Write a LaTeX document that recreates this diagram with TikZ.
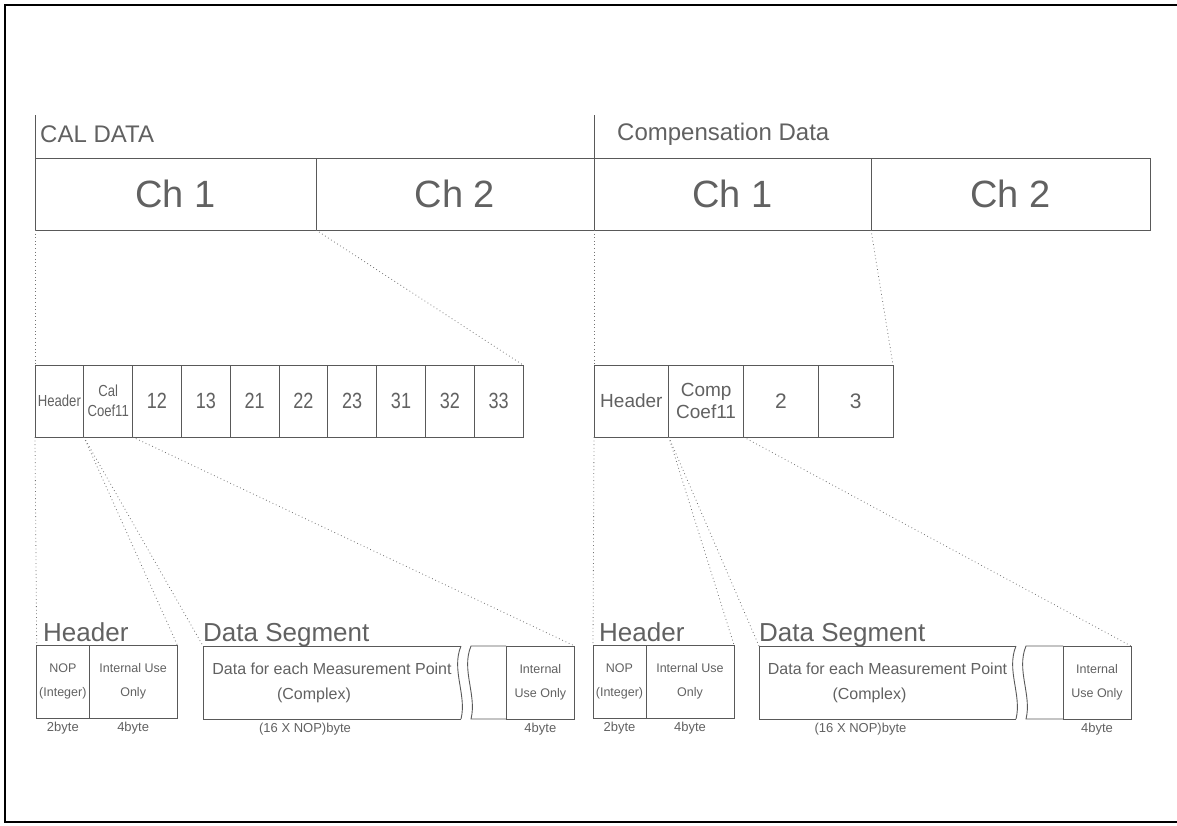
\documentclass[tikz,border=0pt]{standalone}
\usepackage{fontspec}
\setmainfont{Liberation Sans}
\newfontfamily\narrowfont[FakeStretch=0.82]{Liberation Sans}
\usetikzlibrary{positioning}
\definecolor{linegray}{gray}{0.35}
\definecolor{textgray}{gray}{0.38}
\definecolor{dotgray}{gray}{0.45}

\begin{document}
\begin{tikzpicture}[x=1pt, y=-1pt,
    cell/.style={rectangle, draw=linegray, line width=0.9pt, inner sep=0pt, outer sep=0pt, align=center, text=textgray},
    chcell/.style={cell, minimum height=72pt, font=\fontsize{38}{44}\selectfont},
    midcell/.style={cell, minimum width=48.8pt, minimum height=72pt, font=\narrowfont\fontsize{22}{24}\selectfont},
    wcell/.style={cell, minimum width=74.75pt, minimum height=72pt, font=\fontsize{19}{22}\selectfont},
    hcell/.style={cell, minimum height=73pt, font=\fontsize{12.5}{15}\selectfont},
    dcell/.style={cell, draw=none, minimum height=73pt, font=\fontsize{16}{19}\selectfont},
    title/.style={inner sep=0pt, text=textgray, font=\fontsize{24}{28}\selectfont},
    subtitle/.style={inner sep=0pt, text=textgray, font=\fontsize{26}{30}\selectfont},
    bytelabel/.style={inner sep=0pt, text=textgray, font=\fontsize{13}{15}\selectfont},
    link/.style={draw=dotgray, line width=0.8pt, dash pattern=on 0.8pt off 2.8pt},
    boxline/.style={draw=linegray, line width=0.9pt},
    pageframe/.style={draw=black, line width=2pt}]

\useasboundingbox (0,0) rectangle (1177,825);
\draw[pageframe] (1177,5) -- (5,5) -- (5,822) -- (1177,822);

\node[chcell, minimum width=281pt, anchor=north west] (calch1) at (35,158) {Ch 1};
\node[chcell, minimum width=278pt, right=0pt of calch1] (calch2) {Ch 2};
\node[chcell, minimum width=277pt, right=0pt of calch2] (compch1) {Ch 1};
\node[chcell, minimum width=279pt, right=0pt of compch1] (compch2) {Ch 2};

\draw[boxline] (calch1.north west) -- +(0,-43);
\draw[boxline] (compch1.north west) -- +(0,-43);
\node[title, anchor=west] (caltitle) at (40,134) {CAL DATA};
\node[title, anchor=west] (comptitle) at (617,134) {Compensation Data};

\node[midcell, anchor=north west, font=\narrowfont\fontsize{16}{18}\selectfont] (calhdr) at (35,365) {Header};
\node[midcell, right=0pt of calhdr, font=\narrowfont\fontsize{16}{18}\selectfont] (calcoef) {Cal\\[2pt]Coef11};
\node[midcell, right=0pt of calcoef] (cal12) {12};
\node[midcell, right=0pt of cal12] (cal13) {13};
\node[midcell, right=0pt of cal13] (cal21) {21};
\node[midcell, right=0pt of cal21] (cal22) {22};
\node[midcell, right=0pt of cal22] (cal23) {23};
\node[midcell, right=0pt of cal23] (cal31) {31};
\node[midcell, right=0pt of cal31] (cal32) {32};
\node[midcell, right=0pt of cal32] (cal33) {33};

\node[wcell, anchor=north west] (comphdr) at (594,365) {Header};
\node[wcell, right=0pt of comphdr] (compcoef) {Comp\\[0pt]Coef11};
\node[wcell, right=0pt of compcoef, font=\fontsize{21}{24}\selectfont] (comp2) {2};
\node[wcell, right=0pt of comp2, font=\fontsize{21}{24}\selectfont] (comp3) {3};

\node[hcell, minimum width=52.3pt, anchor=north west] (calnop) at (36.7,645) {NOP\\[9pt](Integer)};
\node[hcell, minimum width=88.3pt, right=0pt of calnop] (calhint) {Internal Use\\[9pt]Only};
\node[subtitle, anchor=base west] (calhtitle) at (43,641.5) {Header};
\node[dcell, minimum width=258pt, anchor=north west] (caldata) at (203,646) {Data for each Measurement Point\\[6pt](Complex)\hspace*{36pt}};
\node[hcell, minimum width=68.7pt, anchor=north east] (calint) at (574.7,646) {Internal\\[9pt]Use Only};
\node[subtitle, anchor=base west] (caldtitle) at (203,641.5) {Data Segment};
\draw[boxline] (caldata.north east) -- (caldata.north west) -- (caldata.south west) -- (caldata.south east);
\draw[boxline] (caldata.north east) .. controls +(-10,24) and +(6,-24) .. (caldata.south east);
\draw[boxline] (calint.north west) -- ([xshift=10pt]caldata.north east) .. controls +(-10,24) and +(6,-24) .. ([xshift=10pt]caldata.south east) -- (calint.south west);
\node[bytelabel, below=4pt of calnop] (calnopsz) {2byte};
\node[bytelabel, below=4pt of calhint] (calhintsz) {4byte};
\node[bytelabel, below=4pt of caldata, xshift=-27pt] (caldatasz) {(16 X NOP)byte};
\node[bytelabel, below=4pt of calint] (calintsz) {4byte};

\node[hcell, minimum width=53pt, anchor=north west] (compnop) at (593,645) {NOP\\[9pt](Integer)};
\node[hcell, minimum width=88pt, right=0pt of compnop] (comphint) {Internal Use\\[9pt]Only};
\node[subtitle, anchor=base west] (comphtitle) at (599,641.5) {Header};
\node[dcell, minimum width=257pt, anchor=north west] (compdata) at (759,646) {Data for each Measurement Point\\[6pt](Complex)\hspace*{36pt}};
\node[hcell, minimum width=68pt, anchor=north east] (compint) at (1131,646) {Internal\\[9pt]Use Only};
\node[subtitle, anchor=base west] (compdtitle) at (759,641.5) {Data Segment};
\draw[boxline] (compdata.north east) -- (compdata.north west) -- (compdata.south west) -- (compdata.south east);
\draw[boxline] (compdata.north east) .. controls +(-10,24) and +(6,-24) .. (compdata.south east);
\draw[boxline] (compint.north west) -- ([xshift=10pt]compdata.north east) .. controls +(-10,24) and +(6,-24) .. ([xshift=10pt]compdata.south east) -- (compint.south west);
\node[bytelabel, below=4pt of compnop] (compnopsz) {2byte};
\node[bytelabel, below=4pt of comphint] (comphintsz) {4byte};
\node[bytelabel, below=4pt of compdata, xshift=-27pt] (compdatasz) {(16 X NOP)byte};
\node[bytelabel, below=4pt of compint] (compintsz) {4byte};

\draw[link] (calch1.south west) -- (calhdr.north west);
\draw[link] (calch1.south east) -- (cal33.north east);
\draw[link] (compch1.south west) -- (comphdr.north west);
\draw[link] (compch1.south east) -- (comp3.north east);
\draw[link] (calhdr.south west) -- (calnop.north west);
\draw[link] (calhdr.south east) -- (calhint.north east);
\draw[link] (calhdr.south east) -- (caldata.north west);
\draw[link] (calcoef.south east) -- (calint.north east);
\draw[link] (comphdr.south west) -- (compnop.north west);
\draw[link] (comphdr.south east) -- (comphint.north east);
\draw[link] (comphdr.south east) -- (compdata.north west);
\draw[link] (compcoef.south east) -- (compint.north east);

\end{tikzpicture}
\end{document}
